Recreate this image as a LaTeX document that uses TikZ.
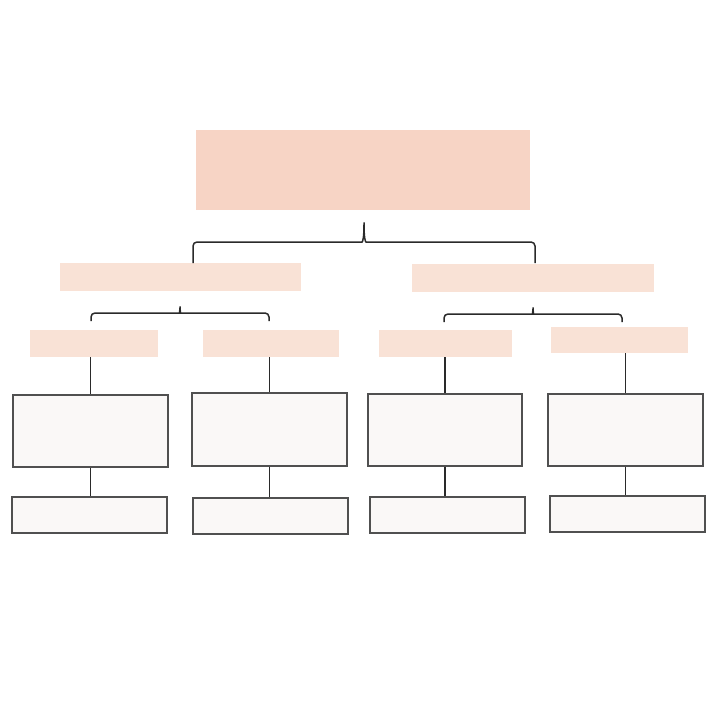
\documentclass[tikz,border=0pt]{standalone}
\begin{document}
\begin{tikzpicture}[x=1pt,y=-1pt,
  topbox/.style={fill=topfill, draw=none, inner sep=0pt},
  midbox/.style={fill=midfill, draw=none, inner sep=0pt},
  outbox/.style={fill=boxfill, draw=edge, line width=1.3pt, inner sep=0pt},
  link/.style={draw=linec, line width=1.5pt},
  bracel/.style={draw=linec, line width=1.5pt, rounded corners=4pt}]
\definecolor{topfill}{HTML}{F7D4C5}
\definecolor{midfill}{HTML}{F9E2D6}
\definecolor{boxfill}{HTML}{FAF8F7}
\definecolor{edge}{HTML}{505050}
\definecolor{linec}{HTML}{2A2A2A}
\useasboundingbox[fill=white] (0,0) rectangle (720,722);
% level 1
\node[topbox, minimum width=334pt, minimum height=80pt] (top) at (363,170) {};
% level 2
\node[midbox, minimum width=241pt, minimum height=28pt] (la) at (180.5,277) {};
\node[midbox, minimum width=242pt, minimum height=28pt] (lb) at (533,278) {};
% level 3
\node[midbox, minimum width=128pt, minimum height=27pt] (c1) at (94,343.5) {};
\node[midbox, minimum width=136pt, minimum height=27pt] (c2) at (271,343.5) {};
\node[midbox, minimum width=133pt, minimum height=27pt] (c3) at (445.5,343.5) {};
\node[midbox, minimum width=137pt, minimum height=26pt] (c4) at (619.5,340) {};
% level 4
\node[outbox, minimum width=155pt, minimum height=72pt] (d1) at (90.5,431) {};
\node[outbox, minimum width=155pt, minimum height=73pt] (d2) at (269.5,429.5) {};
\node[outbox, minimum width=154pt, minimum height=72pt] (d3) at (445,430) {};
\node[outbox, minimum width=155pt, minimum height=72pt] (d4) at (625.5,430) {};
% level 5
\node[outbox, minimum width=155pt, minimum height=36pt] (e1) at (89.5,515) {};
\node[outbox, minimum width=155pt, minimum height=36pt] (e2) at (270.5,516) {};
\node[outbox, minimum width=155pt, minimum height=36pt] (e3) at (447.5,515) {};
\node[outbox, minimum width=155pt, minimum height=36pt] (e4) at (627.5,514) {};
% brace coordinates
\coordinate (t1) at (364,220);
\coordinate (b1l) at (193,263);
\coordinate (b1r) at (535,263);
\coordinate (t2) at (180,304);
\coordinate (b2l) at (91,321);
\coordinate (b2r) at (269,321);
\coordinate (t3) at (533,305);
\coordinate (b3l) at (444,322);
\coordinate (b3r) at (622,322);
% top brace
\draw[bracel] (b1l) |- (358,242) .. controls (362.5,242) and (364,239) .. (t1)
  .. controls (364,239) and (365.5,242) .. (370,242) -| (b1r);
% left brace
\draw[bracel] (b2l) |- (176,313) .. controls (179,313) and (180,311) .. (t2)
  .. controls (180,311) and (181,313) .. (184,313) -| (b2r);
% right brace
\draw[bracel] (b3l) |- (529,314) .. controls (532,314) and (533,312) .. (t3)
  .. controls (533,312) and (534,314) .. (537,314) -| (b3r);
% vertical links
\draw[link] (c1.south -| d1.north) -- (d1.north);
\draw[link] (c2.south -| d2.north) -- (d2.north);
\draw[link] (c3.south -| d3.north) -- (d3.north);
\draw[link] (c4.south -| d4.north) -- (d4.north);
\draw[link] (d1.south) -- (d1.south |- e1.north);
\draw[link] (d2.south) -- (d2.south |- e2.north);
\draw[link] (d3.south) -- (d3.south |- e3.north);
\draw[link] (d4.south) -- (d4.south |- e4.north);
\end{tikzpicture}
\end{document}
